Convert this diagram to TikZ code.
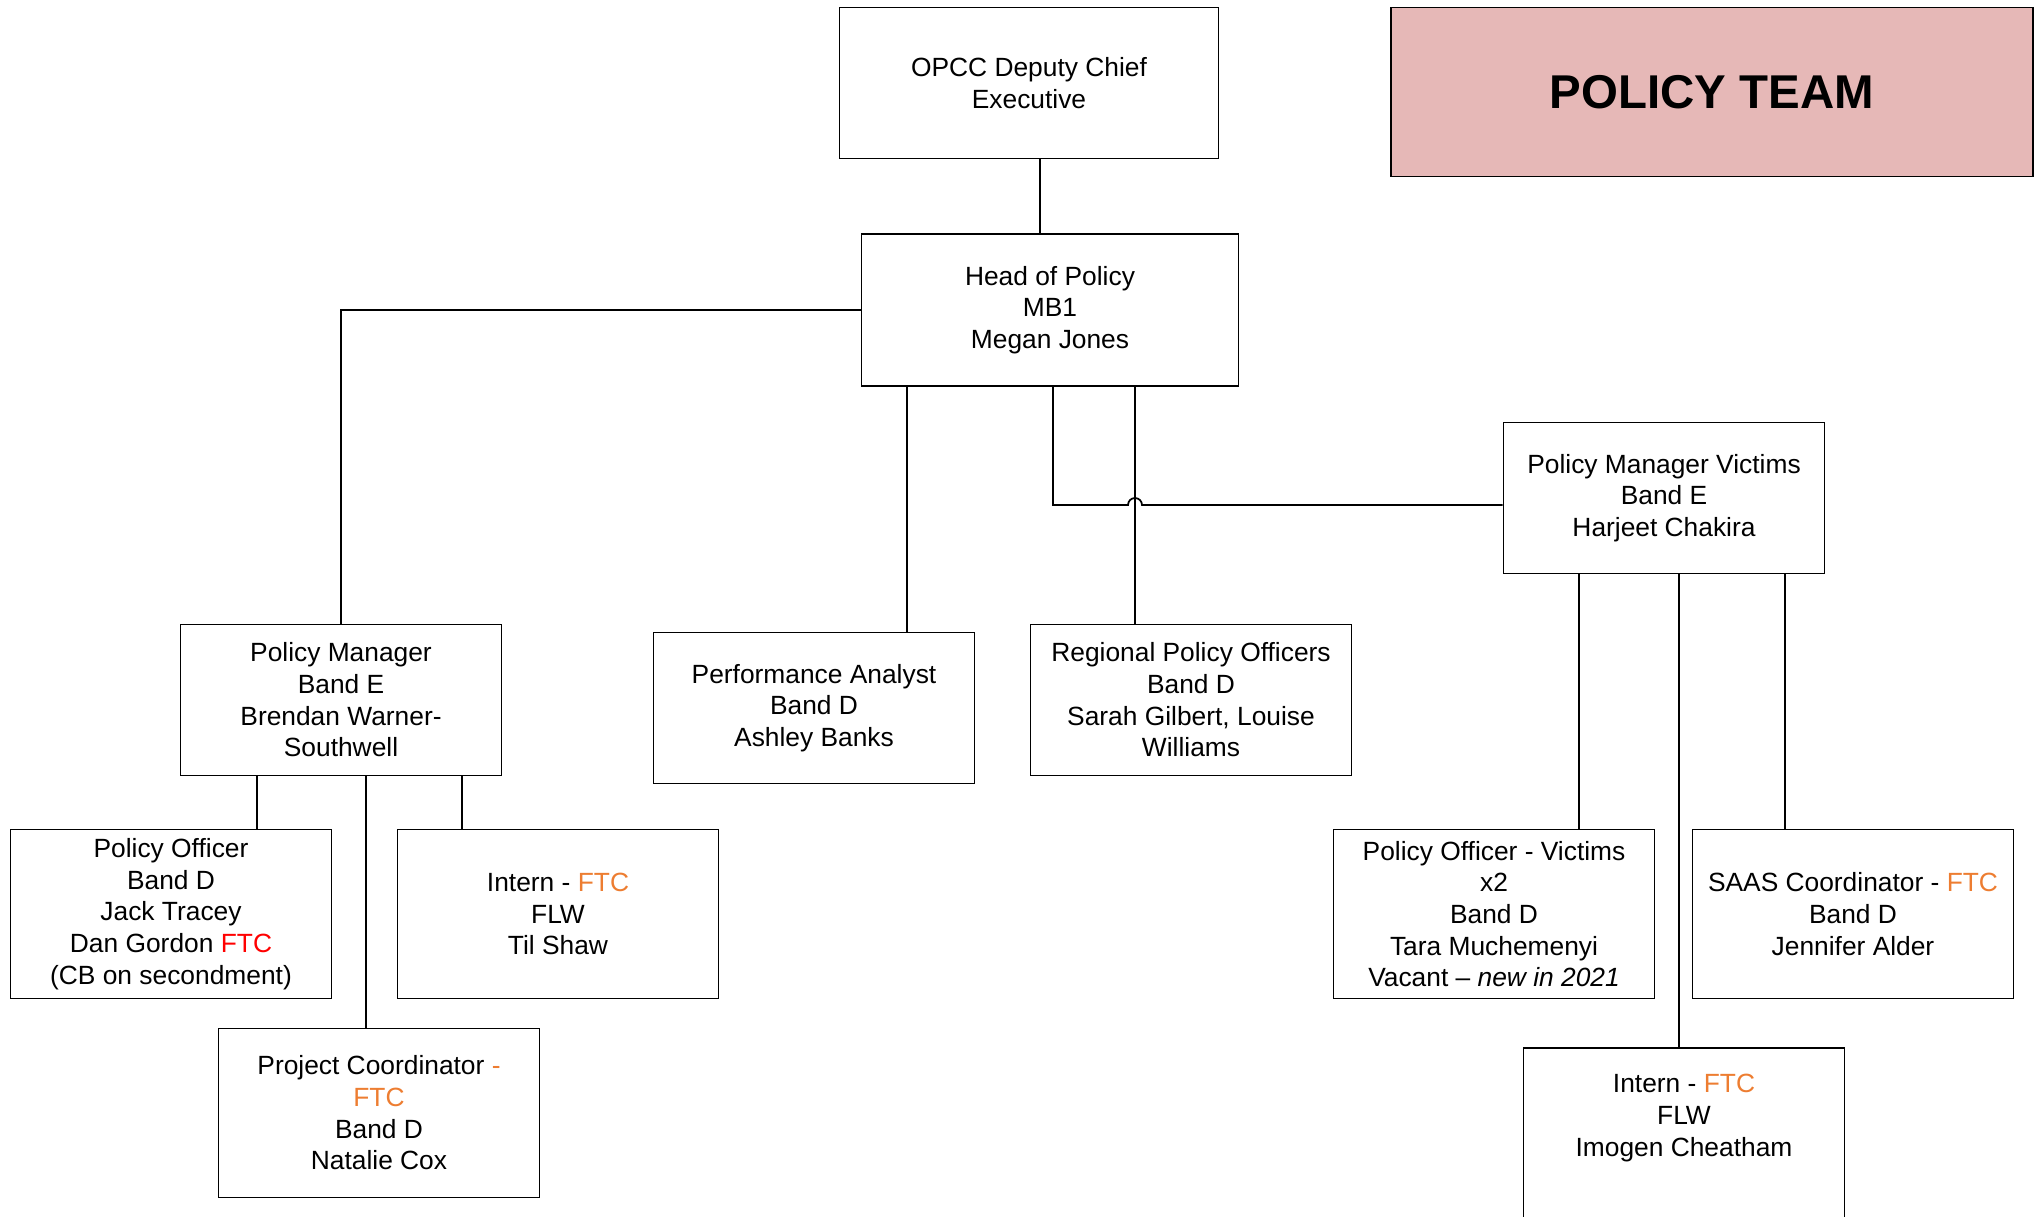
\documentclass[tikz,border=0pt]{standalone}
\usepackage{fontspec}
\setmainfont{Liberation Sans}
\usetikzlibrary{calc}
\definecolor{ftcorange}{RGB}{237,125,49}
\definecolor{teampink}{RGB}{230,184,183}
\newcommand{\ftc}{\textcolor{ftcorange}{FTC}}

\begin{document}
\begin{tikzpicture}[x=0.02cm, y=-0.02cm, line width=1pt,
  post/.style={draw, align=center, minimum width=6.42cm, minimum height=3.02cm,
    inner sep=2pt, font=\fontsize{15pt}{18pt}\selectfont},
  tallpost/.style={post, minimum height=3.38cm}]
\useasboundingbox (0,0) rectangle (2042,1217);

% top
\node[post, minimum width=7.58cm] (opcc) at (1029,83) {OPCC Deputy Chief\\Executive};
\node[draw, fill=teampink, minimum width=12.84cm, minimum height=3.38cm,
  font=\fontsize{27pt}{32pt}\selectfont\bfseries] (team) at (1712,92) {POLICY TEAM};
\node[post, minimum width=7.54cm, minimum height=3.04cm] (head) at (1050,310) {Head of Policy\\MB1\\Megan Jones};

% second row
\node[post] (pmv) at (1664,498) {Policy Manager Victims\\Band E\\Harjeet Chakira};
\node[post] (pm) at (341,700) {Policy Manager\\Band E\\Brendan Warner-\\Southwell};
\node[post] (pa) at (814,708) {Performance Analyst\\Band D\\Ashley Banks};
\node[post] (rpo) at (1191,700) {Regional Policy Officers\\Band D\\Sarah Gilbert, Louise\\Williams};

% bottom rows
\node[tallpost] (po) at (171,914) {Policy Officer\\Band D\\Jack Tracey\\Dan Gordon \textcolor{red}{FTC}\\(CB on secondment)};
\node[tallpost] (intL) at (558,914) {Intern - \ftc\\FLW\\Til Shaw};
\node[tallpost] (pc) at (379,1113) {Project Coordinator \textcolor{ftcorange}{-}\\\ftc\\Band D\\Natalie Cox};
\node[tallpost] (pov) at (1494,914) {Policy Officer - Victims\\x2\\Band D\\Tara Muchemenyi\\Vacant -- \textit{new in 2021}};
\node[tallpost] (saas) at (1853,914) {SAAS Coordinator - \ftc\\Band D\\Jennifer Alder};
\node[post, minimum height=3.96cm] (intR) at (1684,1147) {Intern - \ftc\\FLW\\Imogen Cheatham\\~\\~};

% lines
\draw (1040,0 |- opcc.south) -- (1040,0 |- head.north);
\draw (head.west) -| (pm.north);
\draw (907,0 |- head.south) -- (907,0 |- pa.north);
\draw (1135,0 |- head.south) -- (1135,0 |- rpo.north);
\draw (1053,0 |- head.south) -- (1053,505) -- (1128,505)
  arc[start angle=180, end angle=0, radius=0.14cm] -- (pmv.west |- 0,505);
\foreach \x/\t in {257/po,366/pc,462/intL}
  \draw (\x,0 |- pm.south) -- (\x,0 |- \t.north);
\foreach \x/\t in {1579/pov,1679/intR,1785/saas}
  \draw (\x,0 |- pmv.south) -- (\x,0 |- \t.north);

\end{tikzpicture}
\end{document}
